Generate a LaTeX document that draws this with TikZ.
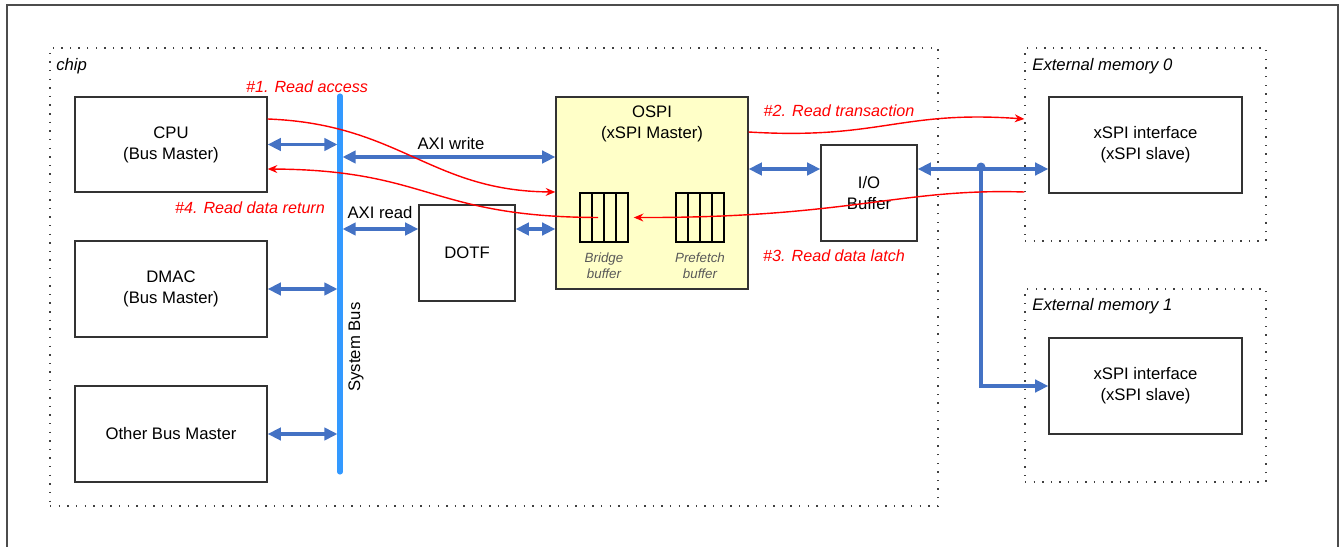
\documentclass[tikz,border=0pt]{standalone}
\usepackage{fontspec}
\setmainfont{Liberation Sans}
\usetikzlibrary{positioning,arrows.meta}
\definecolor{linkblue}{HTML}{4472C4}
\definecolor{busblue}{HTML}{3399FF}
\definecolor{ospiyellow}{HTML}{FFFFC8}

\begin{document}
\begin{tikzpicture}[x=0.02cm, y=-0.02cm, font=\fontsize{9.5}{11.9}\selectfont]

% ---- Define Styles ----
\tikzset{
  block/.style={
    draw=black!80, line width=0.75pt, fill=white, align=center, inner sep=0pt
  },
  region/.style={
    draw=black!75, line width=0.8pt, dash pattern=on 0.8pt off 4.1pt, inner sep=0pt
  },
  regionlabel/.style={
    anchor=west, inner sep=0pt, font=\fontsize{9.5}{11.9}\selectfont\itshape
  },
  linkarrow/.style={
    draw=linkblue, line width=2pt,
    {Triangle[length=7.5pt,width=7pt]}-{Triangle[length=7.5pt,width=7pt]}
  },
  flow/.style={
    draw=red, line width=0.8pt, -{Stealth[length=5.5pt,width=4.5pt]}
  },
  flowlabel/.style={
    text=red, inner sep=0pt, font=\fontsize{9.2}{11}\selectfont\itshape
  },
  bufcell/.style={draw=black, line width=0.9pt},
  buflabel/.style={
    text=black!65, align=center, inner sep=0pt, font=\fontsize{7.6}{9}\selectfont\itshape
  }
}

\useasboundingbox (0,0) rectangle (1341,547);

% outer frame
\draw[black!70, line width=1.1pt] (7,547) -- (7,5) -- (1338,5) -- (1338,547);

% =========================================================
% REGIONS (dotted)
% =========================================================
\node[region, minimum width=17.76cm, minimum height=9.16cm] (chip) at (494,277) {};
\node[regionlabel] (chiplbl) at (56,66) {chip};
\node[region, minimum width=4.82cm, minimum height=3.86cm] (mem0) at (1145.5,144.5) {};
\node[regionlabel] (mem0lbl) at (1032,66) {External memory 0};
\node[region, minimum width=4.82cm, minimum height=3.86cm] (mem1) at (1145.5,385.5) {};
\node[regionlabel] (mem1lbl) at (1032,306) {External memory 1};

% =========================================================
% BUS MASTERS (left column)
% =========================================================
\node[block, minimum width=3.84cm, minimum height=1.9cm]  (cpu)   at (171,144.5) {CPU\\(Bus Master)};
\node[block, minimum width=3.84cm, minimum height=1.92cm] (dmac)  at (171,289)   {DMAC\\(Bus Master)};
\node[block, minimum width=3.84cm, minimum height=1.92cm] (other) at (171,434)   {Other Bus Master};

% =========================================================
% SYSTEM BUS
% =========================================================
\coordinate (bustop) at (340,96);
\coordinate (busbot) at (340,472);
\coordinate (busL) at (337.5,0);
\coordinate (busR) at (342.5,0);
\draw[busblue, line width=2.9pt, line cap=round] (bustop) -- (busbot);
\node[rotate=90] (buslbl) at (356,347) {System Bus};

% =========================================================
% DOTF, OSPI, I/O BUFFER
% =========================================================
\node[block, minimum width=1.92cm, minimum height=1.92cm] (dotf) at (467,253) {DOTF};
\node[block, fill=ospiyellow, minimum width=3.84cm, minimum height=3.84cm] (ospi) at (652,193) {};
\node[align=center] (ospitxt) at (652,124) {OSPI\\(xSPI Master)};
\node[block, minimum width=1.92cm, minimum height=1.92cm] (iobuf) at (869,193) {I/O\\Buffer};

% buffers inside OSPI (4 cells each)
\node[bufcell, minimum width=0.96cm, minimum height=0.98cm, inner sep=0pt] (bridge) at (604,217.5) {};
\foreach \x in {592,604,616} \draw[bufcell] (\x,193) -- (\x,242);
\node[buflabel] (bridgelbl) at (604,266) {Bridge\\buffer};
\node[bufcell, minimum width=0.96cm, minimum height=0.98cm, inner sep=0pt] (prefetch) at (700,217.5) {};
\foreach \x in {688,700,712} \draw[bufcell] (\x,193) -- (\x,242);
\node[buflabel] (prefetchlbl) at (700,266) {Prefetch\\buffer};

% =========================================================
% EXTERNAL MEMORIES
% =========================================================
\node[block, minimum width=3.86cm, minimum height=1.92cm] (xspi0) at (1145.5,145) {xSPI interface\\(xSPI slave)};
\node[block, minimum width=3.86cm, minimum height=1.92cm] (xspi1) at (1145.5,386) {xSPI interface\\(xSPI slave)};

% =========================================================
% BUS LINKS (blue)
% =========================================================
\draw[linkarrow] (cpu.east) -- (cpu.east -| busL);
\draw[linkarrow] (dmac.east) -- (dmac.east -| busL);
\draw[linkarrow] (other.east) -- (other.east -| busL);
\draw[linkarrow] (busR |- 0,157) -- (ospi.west |- 0,157);
\node (axiw) at (451,144) {AXI write};
\draw[linkarrow] (busR |- 0,229) -- (dotf.west |- 0,229);
\node (axir) at (380,213) {AXI read};
\draw[linkarrow] (dotf.east |- 0,229) -- (ospi.west |- 0,229);
\draw[linkarrow] (ospi.east |- 0,169) -- (iobuf.west |- 0,169);
\draw[linkarrow] (iobuf.east |- 0,169) -- (xspi0.west |- 0,169);
\node[fill=linkblue, circle, inner sep=0pt, minimum size=0.18cm] (fork) at (981,167) {};
\draw[linkblue, line width=2pt, -{Triangle[length=7.5pt,width=7pt]}] (fork.center) |- (xspi1.west);

% =========================================================
% READ FLOW (red)
% =========================================================
\draw[flow] (cpu.east |- 0,119) .. controls (400,124) and (430,191) .. (ospi.west |- 0,192);
\node[flowlabel] (f1) at (307,87) {\#1. Read access};
\draw[flow] (ospi.east |- 0,132) .. controls (880,140) and (900,110) .. (mem0.west |- 0,119);
\node[flowlabel] (f2) at (839,111) {\#2. Read transaction};
\draw[flow, shorten >=2.8pt] (mem0.west |- 0,192) .. controls (900,188) and (850,218) .. (bridge.east);
\node[flowlabel] (f3) at (834,256) {\#3. Read data latch};
\draw[flow] (598,217.5) .. controls (430,217) and (430,170) .. (cpu.east |- 0,169);
\node[flowlabel] (f4) at (250,208) {\#4. Read data return};

\end{tikzpicture}
\end{document}
